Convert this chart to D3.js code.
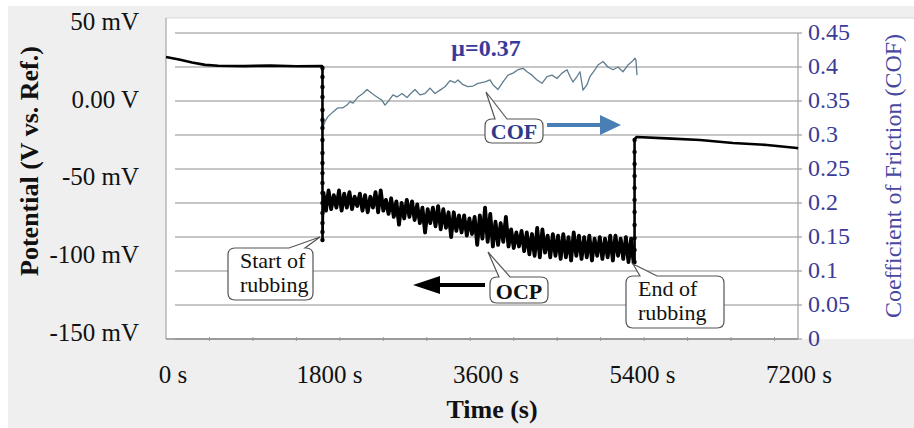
<!DOCTYPE html>
<html>
<head>
<meta charset="utf-8">
<script src="https://cdn.jsdelivr.net/npm/d3@7"></script>
<style>
  body { margin: 0; background: #fff; }
  text { font-family: "Liberation Serif", "Times New Roman", serif; }
</style>
</head>
<body>
<script>
// ---- data ----
var xTickVals   = [0, 1800, 3600, 5400, 7200];
var xTickLabels = ["0 s", "1800 s", "3600 s", "5400 s", "7200 s"];
var xMinorTicks = [500, 1000, 1500, 2000, 2500, 3000, 3500, 4000, 4500, 5000, 5500, 6000, 6500, 7000];

var leftTickVals   = [50, 0, -50, -100, -150];
var leftTickLabels = ["50 mV", "0.00 V", "-50 mV", "-100 mV", "-150 mV"];

var cofTickVals   = [0, 0.05, 0.1, 0.15, 0.2, 0.25, 0.3, 0.35, 0.4, 0.45];
var cofTickLabels = ["0", "0.05", "0.1", "0.15", "0.2", "0.25", "0.3", "0.35", "0.4", "0.45"];

// OCP (mV) before rubbing
var ocpBefore = [[0, 26.8], [150, 25.2], [300, 23.3], [450, 21.8], [600, 21.2], [900, 21.0],
                 [1200, 21.3], [1500, 20.9], [1795, 21.0]];
// potential drop when rubbing starts (t = 1800 s)
var ocpDrop = [19.8, 14, 7.6, 1.1, -7.2, -13.7, -18.8, -26.5, -34.9, -41.3, -47.8, -54.2,
               -60.6, -67, -73.5, -79.9, -85.7, -90.8];
// OCP during rubbing
var ocpRubbing = [
  [1810,-60],[1840,-72],[1870,-59],[1900,-71],[1930,-62],[1960,-70],[1990,-59],[2020,-72],
  [2050,-61],[2080,-70],[2110,-60],[2140,-71],[2170,-63],[2200,-69],[2230,-61],[2260,-72],
  [2290,-62],[2320,-73],[2350,-63],[2380,-70],[2410,-60],[2440,-73],[2470,-59],[2500,-72],
  [2530,-65],[2560,-74],[2590,-64],[2620,-76],[2650,-66],[2680,-81],[2710,-67],[2740,-77],
  [2770,-65],[2800,-76],[2830,-66],[2860,-78],[2890,-68],[2920,-80],[2950,-70],[2980,-86],
  [3010,-71],[3040,-80],[3070,-70],[3100,-82],[3130,-69],[3160,-84],[3190,-71],[3220,-83],
  [3250,-73],[3280,-89],[3310,-73],[3340,-85],[3370,-75],[3400,-86],[3430,-75],[3460,-88],
  [3490,-77],[3520,-87],[3550,-76],[3580,-94],[3610,-75],[3640,-90],[3670,-70],[3700,-92],
  [3730,-74],[3760,-95],[3790,-79],[3820,-94],[3850,-80],[3880,-92],[3910,-76],[3940,-95],
  [3970,-84],[4000,-96],[4030,-86],[4060,-95],[4090,-85],[4120,-98],[4150,-86],[4180,-100],
  [4210,-87],[4240,-101],[4270,-83],[4300,-102],[4330,-84],[4360,-99],[4390,-88],[4420,-102],
  [4450,-87],[4480,-101],[4510,-88],[4540,-103],[4570,-87],[4600,-102],[4630,-89],[4660,-104],
  [4690,-86],[4720,-101],[4750,-88],[4780,-103],[4810,-89],[4840,-102],[4870,-88],[4900,-104],
  [4930,-90],[4960,-101],[4990,-89],[5020,-103],[5050,-90],[5080,-102],[5110,-88],[5140,-104],
  [5170,-88],[5200,-101],[5230,-90],[5260,-103],[5290,-89],[5320,-105],[5350,-90],[5380,-106]
];
// potential rise when rubbing stops (t ~ 5390 s)
var ocpRise = [-105, -97.3, -89.6, -81.2, -72.8, -65.1, -57.4, -49.7, -42, -34.2, -26.5];
// OCP after rubbing
var ocpAfter = [[5400, -25.4], [5414, -24.6], [5760, -25.5], [6143, -26.5], [6522, -28.5],
                [6913, -29.7], [7258, -31.7], [7270, -32.0]];

// coefficient of friction during rubbing
var cof = [
  [1802,0.310],[1829,0.320],[1863,0.327],[1921,0.334],[1978,0.340],[2036,0.340],[2082,0.344],
  [2117,0.349],[2151,0.347],[2209,0.356],[2266,0.361],[2312,0.367],[2370,0.361],[2427,0.356],
  [2485,0.351],[2519,0.344],[2554,0.349],[2611,0.359],[2657,0.356],[2715,0.361],[2772,0.355],
  [2807,0.360],[2864,0.367],[2922,0.359],[2979,0.361],[3037,0.369],[3094,0.361],[3152,0.366],
  [3209,0.371],[3267,0.380],[3324,0.377],[3359,0.381],[3416,0.374],[3474,0.371],[3532,0.372],
  [3589,0.376],[3670,0.378],[3727,0.381],[3761,0.374],[3819,0.367],[3877,0.378],[3934,0.388],
  [3992,0.391],[4049,0.396],[4107,0.398],[4153,0.393],[4210,0.388],[4268,0.381],[4325,0.376],
  [4383,0.386],[4440,0.388],[4498,0.383],[4555,0.391],[4613,0.396],[4647,0.386],[4682,0.378],
  [4728,0.386],[4762,0.393],[4797,0.366],[4843,0.374],[4877,0.386],[4935,0.396],[4969,0.403],
  [5027,0.408],[5084,0.400],[5142,0.396],[5199,0.400],[5257,0.393],[5315,0.403],[5361,0.408],
  [5395,0.413],[5406,0.410],[5418,0.388]
];

// ---- layout ----
var svg_width  = 914;
var svg_height = 428;
var plotLeft = 166, plotRight = 798, plotTop = 18, plotBottom = 339;

var svg = d3.select('body').append('svg')
            .attr('width', svg_width)
            .attr('height', svg_height);

// scales
var x = d3.scaleLinear().domain([0, 7270]).range([plotLeft, plotRight]);
var yL = d3.scaleLinear().domain([-150, 50]).range([332, 21]);
var yR = d3.scaleLinear().domain([0, 0.45]).range([plotBottom, 33]);

// background
svg.append("rect").attr("x", 8).attr("y", 6)
   .attr("width", svg_width - 8).attr("height", svg_height - 6)
   .attr("fill", "#efefef");
svg.append("rect").attr("x", plotLeft).attr("y", plotTop)
   .attr("width", svg_width - plotLeft).attr("height", plotBottom - plotTop)
   .attr("fill", "#fff");
svg.append("line").attr("x1", plotLeft).attr("x2", svg_width)
   .attr("y1", plotTop).attr("y2", plotTop)
   .attr("stroke", "#d8d8d8").attr("stroke-width", 1);

// gridlines (COF axis)
svg.append("g").selectAll("line")
   .data(cofTickVals)
   .enter().append("line")
   .attr("x1", 175).attr("x2", plotRight + 4)
   .attr("y1", d => yR(d)).attr("y2", d => yR(d))
   .attr("stroke", "#b3b3b3").attr("stroke-width", 1.4);

// axes lines
svg.append("line").attr("x1", plotLeft).attr("x2", plotLeft)
   .attr("y1", plotTop).attr("y2", plotBottom)
   .attr("stroke", "#a6a6a6").attr("stroke-width", 1.2);
svg.append("line").attr("x1", plotLeft).attr("x2", plotRight)
   .attr("y1", plotBottom).attr("y2", plotBottom)
   .attr("stroke", "#8c8c8c").attr("stroke-width", 1.4);
svg.append("line").attr("x1", plotRight).attr("x2", plotRight)
   .attr("y1", yR(0.45)).attr("y2", plotBottom)
   .attr("stroke", "#a0a0a0").attr("stroke-width", 1.2);

// minor x ticks
svg.append("g").selectAll("line")
   .data(xMinorTicks)
   .enter().append("line")
   .attr("x1", d => x(d)).attr("x2", d => x(d))
   .attr("y1", plotBottom - 2).attr("y2", plotBottom + 2)
   .attr("stroke", "#999").attr("stroke-width", 1);

// x labels
svg.append("g").selectAll("text")
   .data(xTickVals)
   .enter().append("text")
   .attr("x", d => x(d) + 7).attr("y", 383)
   .attr("text-anchor", "middle")
   .attr("font-size", 25).attr("fill", "#111")
   .text((d, i) => xTickLabels[i]);

// left labels
svg.append("g").selectAll("text")
   .data(leftTickVals)
   .enter().append("text")
   .attr("x", 139).attr("y", d => yL(d))
   .attr("dy", "0.35em")
   .attr("text-anchor", "end")
   .attr("font-size", 25).attr("fill", "#111")
   .text((d, i) => leftTickLabels[i]);

// right labels
svg.append("g").selectAll("text")
   .data(cofTickVals)
   .enter().append("text")
   .attr("x", 808).attr("y", d => yR(d) - 1)
   .attr("dy", "0.35em")
   .attr("font-size", 24).attr("fill", "#3b3b98")
   .text((d, i) => cofTickLabels[i]);

// axis titles
svg.append("text")
   .attr("transform", "translate(38,161) rotate(-90)")
   .attr("text-anchor", "middle")
   .attr("font-size", 26).attr("font-weight", "bold").attr("fill", "#111")
   .text("Potential (V vs. Ref.)");
svg.append("text")
   .attr("transform", "translate(901,176) rotate(-90)")
   .attr("text-anchor", "middle")
   .attr("font-size", 24).attr("fill", "#4848a0")
   .text("Coefficient of Friction (COF)");
svg.append("text")
   .attr("x", 492).attr("y", 418)
   .attr("text-anchor", "middle")
   .attr("font-size", 26).attr("font-weight", "bold").attr("fill", "#111")
   .text("Time (s)");

// COF line
var cofLine = d3.line().x(d => x(d[0])).y(d => yR(d[1]));
svg.append("path")
   .datum(cof)
   .attr("d", cofLine)
   .attr("fill", "none")
   .attr("stroke", "#5f7d8e")
   .attr("stroke-width", 1.3)
   .attr("stroke-linejoin", "round");

// OCP line
var dropPts = ocpDrop.map(v => [1800, v]);
var risePts = ocpRise.map(v => [5390, v]);
var ocpAll = ocpBefore.concat(dropPts, ocpRubbing, risePts, ocpAfter);
var ocpLine = d3.line().x(d => x(d[0])).y(d => yL(d[1]));
svg.append("path")
   .datum(ocpAll)
   .attr("d", ocpLine)
   .attr("fill", "none")
   .attr("stroke", "#000")
   .attr("stroke-width", 2.6)
   .attr("stroke-linejoin", "round");
// rubbing part drawn heavier, the noisy trace reads as a solid band
svg.append("path")
   .datum(ocpRubbing)
   .attr("d", ocpLine)
   .attr("fill", "none")
   .attr("stroke", "#000")
   .attr("stroke-width", 3.8)
   .attr("stroke-linejoin", "round");

svg.append("g").selectAll("circle")
   .data(dropPts.concat(risePts))
   .enter().append("circle")
   .attr("cx", d => x(d[0])).attr("cy", d => yL(d[1]))
   .attr("r", 2.2).attr("fill", "#000");

// callouts
function callout(x0, y0, x1, y1, b1, b2, ax, ay) {
  var r = 7;
  var p = "M" + (x0 + r) + "," + y0 + " L" + b1 + "," + y0 + " L" + ax + "," + ay +
          " L" + b2 + "," + y0 + " L" + (x1 - r) + "," + y0 +
          " Q" + x1 + "," + y0 + " " + x1 + "," + (y0 + r) +
          " L" + x1 + "," + (y1 - r) + " Q" + x1 + "," + y1 + " " + (x1 - r) + "," + y1 +
          " L" + (x0 + r) + "," + y1 + " Q" + x0 + "," + y1 + " " + x0 + "," + (y1 - r) +
          " L" + x0 + "," + (y0 + r) + " Q" + x0 + "," + y0 + " " + (x0 + r) + "," + y0 + " Z";
  svg.append("path").attr("d", p)
     .attr("fill", "#fff").attr("stroke", "#555").attr("stroke-width", 1.2);
}

callout(228, 248, 313, 300, 289, 305, 320, 237);
svg.append("text").attr("x", 240).attr("y", 268).attr("font-size", 22).attr("fill", "#111").text("Start of");
svg.append("text").attr("x", 240).attr("y", 292).attr("font-size", 22).attr("fill", "#111").text("rubbing");

callout(626, 276, 724, 328, 640, 657, 633, 264);
svg.append("text").attr("x", 638).attr("y", 296).attr("font-size", 22).attr("fill", "#111").text("End of");
svg.append("text").attr("x", 638).attr("y", 320).attr("font-size", 22).attr("fill", "#111").text("rubbing");

callout(490, 277, 548, 303, 499, 510, 488, 252);
svg.append("text").attr("x", 519).attr("y", 299).attr("text-anchor", "middle")
   .attr("font-size", 22).attr("font-weight", "bold").attr("fill", "#111").text("OCP");

callout(485, 119, 543, 143, 495, 507, 486, 92);
svg.append("text").attr("x", 514).attr("y", 139).attr("text-anchor", "middle")
   .attr("font-size", 22).attr("font-weight", "bold").attr("fill", "#2f3a8a").text("COF");

// arrows
svg.append("path")
   .attr("d", "M485,283 L440,283 L440,276 L413,285 L440,294 L440,287 L485,287 Z")
   .attr("fill", "#000");
svg.append("path")
   .attr("d", "M547,123 L600,123 L600,115 L621,125 L600,135 L600,127 L547,127 Z")
   .attr("fill", "#4a7fb5");

// mean friction label
svg.append("text")
   .attr("x", 486).attr("y", 56)
   .attr("text-anchor", "middle")
   .attr("font-size", 24).attr("font-weight", "bold").attr("fill", "#3a3a9a")
   .text("μ=0.37");
</script>
</body>
</html>
